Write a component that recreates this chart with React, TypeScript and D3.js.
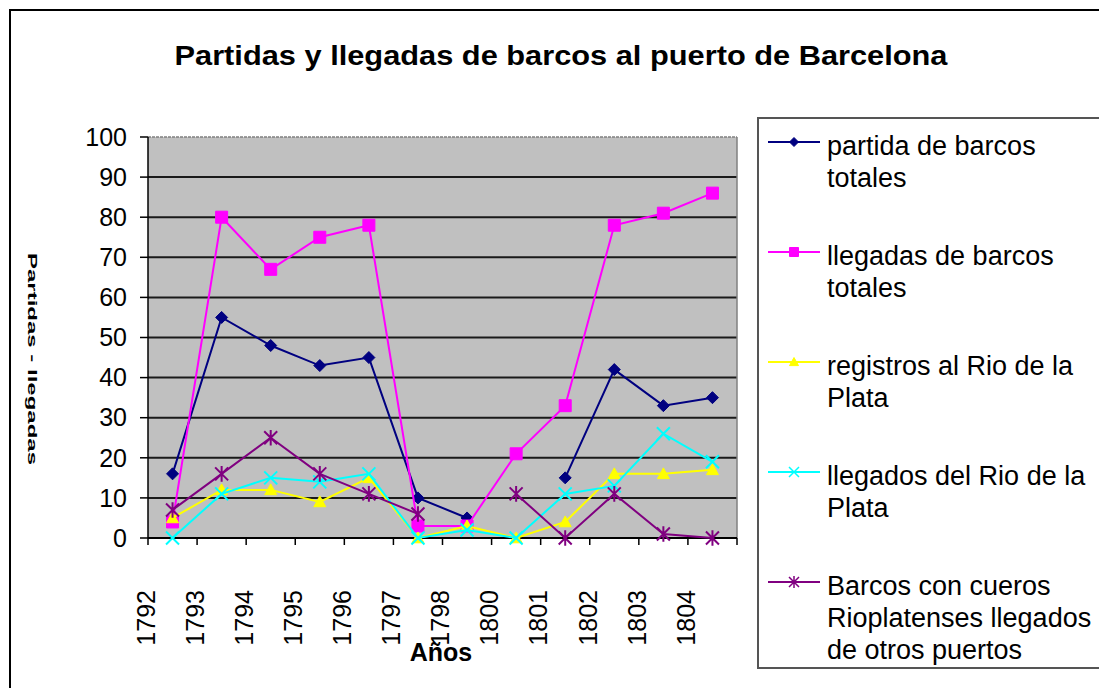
import React from "react";
import * as d3 from "d3";

const categories = ["1792", "1793", "1794", "1795", "1796", "1797", "1798", "1800", "1801", "1802", "1803", "1804"];
const partidas: (number | null)[] = [16, 55, 48, 43, 45, 10, 5, null, 15, 42, 33, 35];
const llegadas: (number | null)[] = [4, 80, 67, 75, 78, 3, 3, 21, 33, 78, 81, 86];
const registros: (number | null)[] = [5, 12, 12, 9, 15, 0, 3, 0, 4, 16, 16, 17];
const llegadosRio: (number | null)[] = [0, 11, 15, 14, 16, 0, 2, 0, 11, 13, 26, 19];
const cueros: (number | null)[] = [7, 16, 25, 16, 11, 6, null, 11, 0, 11, 1, 0];
const yTicks = [0, 10, 20, 30, 40, 50, 60, 70, 80, 90, 100];

const titleText = "Partidas y llegadas de barcos al puerto de Barcelona";
const xTitle = "Años";
const yTitle = "Partidas - llegadas";

const series = [
  { name: ["partida de barcos", "totales"], values: partidas, color: "#000080", marker: "diamond" },
  { name: ["llegadas de barcos", "totales"], values: llegadas, color: "#FF00FF", marker: "square" },
  { name: ["registros al Rio de la", "Plata"], values: registros, color: "#FFFF00", marker: "triangle" },
  { name: ["llegados del Rio de la", "Plata"], values: llegadosRio, color: "#00FFFF", marker: "x" },
  { name: ["Barcos con cueros", "Rioplatenses llegados", "de otros puertos"], values: cueros, color: "#800080", marker: "star" },
];

function markerPath(type: string, r: number): string {
  switch (type) {
    case "diamond":
      return `M0,${-r}L${r},0L0,${r}L${-r},0Z`;
    case "square":
      return `M${-r},${-r}H${r}V${r}H${-r}Z`;
    case "triangle":
      return `M0,${-r}L${r},${r * 0.8}L${-r},${r * 0.8}Z`;
    case "x":
      return `M${-r},${-r}L${r},${r}M${-r},${r}L${r},${-r}`;
    case "star":
      return `M${-r},${-r}L${r},${r}M${-r},${r}L${r},${-r}M0,${-r * 1.2}V${r * 1.2}`;
  }
  return "";
}

const FONT = "'Liberation Sans', Arial, sans-serif";

export default function App() {
  const W = 1099, H = 688;
  const x = d3.scaleBand<string>().domain(categories).range([148, 737]);
  const y = d3.scaleLinear().domain([0, 100]).range([538, 137]);
  const cx = (c: string) => (x(c) as number) + x.bandwidth() / 2;
  const line = d3
    .line<{ c: string; v: number | null }>()
    .defined((d) => d.v != null)
    .x((d) => cx(d.c))
    .y((d) => y(d.v as number));

  const [x0, x1] = x.range();
  const [yb, yt] = y.range();
  const boundaries = [...categories.map((c) => x(c) as number), x1];

  const legendX = 758;
  const legendLineY = (i: number) => 142 + 110 * i;

  return (
    <svg width={W} height={H} style={{ position: "absolute", left: 0, top: 0, background: "#fff" }} fontFamily={FONT}>
      {/* outer frame */}
      <rect x={10} y={10} width={1120} height={720} fill="#fff" stroke="#000" strokeWidth={2} />
      {/* title */}
      <text x={561} y={65} textAnchor="middle" fontSize={28} fontWeight="bold" textLength={773} lengthAdjust="spacingAndGlyphs">
        {titleText}
      </text>
      {/* plot area */}
      <rect x={x0} y={yt} width={x1 - x0} height={yb - yt} fill="#C0C0C0" />
      {yTicks
        .filter((t) => t > 0 && t < 100)
        .map((t) => (
          <line key={"g" + t} x1={x0} x2={x1} y1={y(t)} y2={y(t)} stroke="#1a1a1a" strokeWidth={2} />
        ))}
      <line x1={x0} x2={x1} y1={yt} y2={yt} stroke="#808080" strokeWidth={1.5} strokeDasharray="3,1" />
      <line x1={x1} x2={x1} y1={yt} y2={yb} stroke="#808080" strokeWidth={1.5} />
      {/* y axis */}
      <line x1={x0} x2={x0} y1={yt} y2={yb} stroke="#000" strokeWidth={1.5} />
      {yTicks.map((t) => (
        <g key={"yt" + t}>
          <line x1={x0 - 8} x2={x0} y1={y(t)} y2={y(t)} stroke="#000" strokeWidth={1.5} />
          <text x={127} y={y(t)} dy="0.35em" textAnchor="end" fontSize={25} fill="#000">
            {t}
          </text>
        </g>
      ))}
      {/* x axis */}
      <line x1={x0} x2={x1} y1={yb} y2={yb} stroke="#000" strokeWidth={2} />
      {boundaries.map((b, i) => (
        <line key={"xt" + i} x1={b} x2={b} y1={yb} y2={yb + 7} stroke="#000" strokeWidth={1.5} />
      ))}
      {categories.map((c) => (
        <text
          key={"xl" + c}
          transform={`translate(${(x(c) as number) - 2},590) rotate(-90)`}
          textAnchor="end"
          dy="0.35em"
          fontSize={25}
          fill="#000"
        >
          {c}
        </text>
      ))}
      <text x={441} y={661} textAnchor="middle" fontSize={25} fontWeight="bold">
        {xTitle}
      </text>
      {/* y title (garbled in original) */}
      <text transform="translate(33,359) rotate(90)" textAnchor="middle" dy="0.35em" fontSize={13} fontWeight="bold" textLength={212} lengthAdjust="spacingAndGlyphs">
        {yTitle}
      </text>
      {/* series */}
      {series.map((s, si) => {
        const data = categories.map((c, i) => ({ c, v: s.values[i] }));
        const filled = s.marker !== "x" && s.marker !== "star";
        return (
          <g key={"s" + si}>
            <path d={line(data) || ""} fill="none" stroke={s.color} strokeWidth={2} />
            {data
              .filter((d) => d.v != null)
              .map((d, i) => (
                <path
                  key={i}
                  transform={`translate(${cx(d.c)},${y(d.v as number)})`}
                  d={markerPath(s.marker, filled ? 6 : 6.5)}
                  fill={filled ? s.color : "none"}
                  stroke={s.color}
                  strokeWidth={filled ? 1 : 2}
                />
              ))}
          </g>
        );
      })}
      {/* legend */}
      <rect x={legendX} y={118} width={400} height={550} fill="#fff" stroke="#555" strokeWidth={2} />
      {series.map((s, si) => {
        const ly = legendLineY(si);
        const filled = s.marker !== "x" && s.marker !== "star";
        return (
          <g key={"l" + si}>
            <line x1={768} x2={820} y1={ly} y2={ly} stroke={s.color} strokeWidth={2} />
            <path
              transform={`translate(794,${ly})`}
              d={markerPath(s.marker, filled ? 4.5 : 5)}
              fill={filled ? s.color : "none"}
              stroke={s.color}
              strokeWidth={filled ? 1 : 1.5}
            />
            {s.name.map((t, ti) => (
              <text key={ti} x={827} y={ly + 13 + ti * 32} fontSize={27} fill="#000">
                {t}
              </text>
            ))}
          </g>
        );
      })}
    </svg>
  );
}
